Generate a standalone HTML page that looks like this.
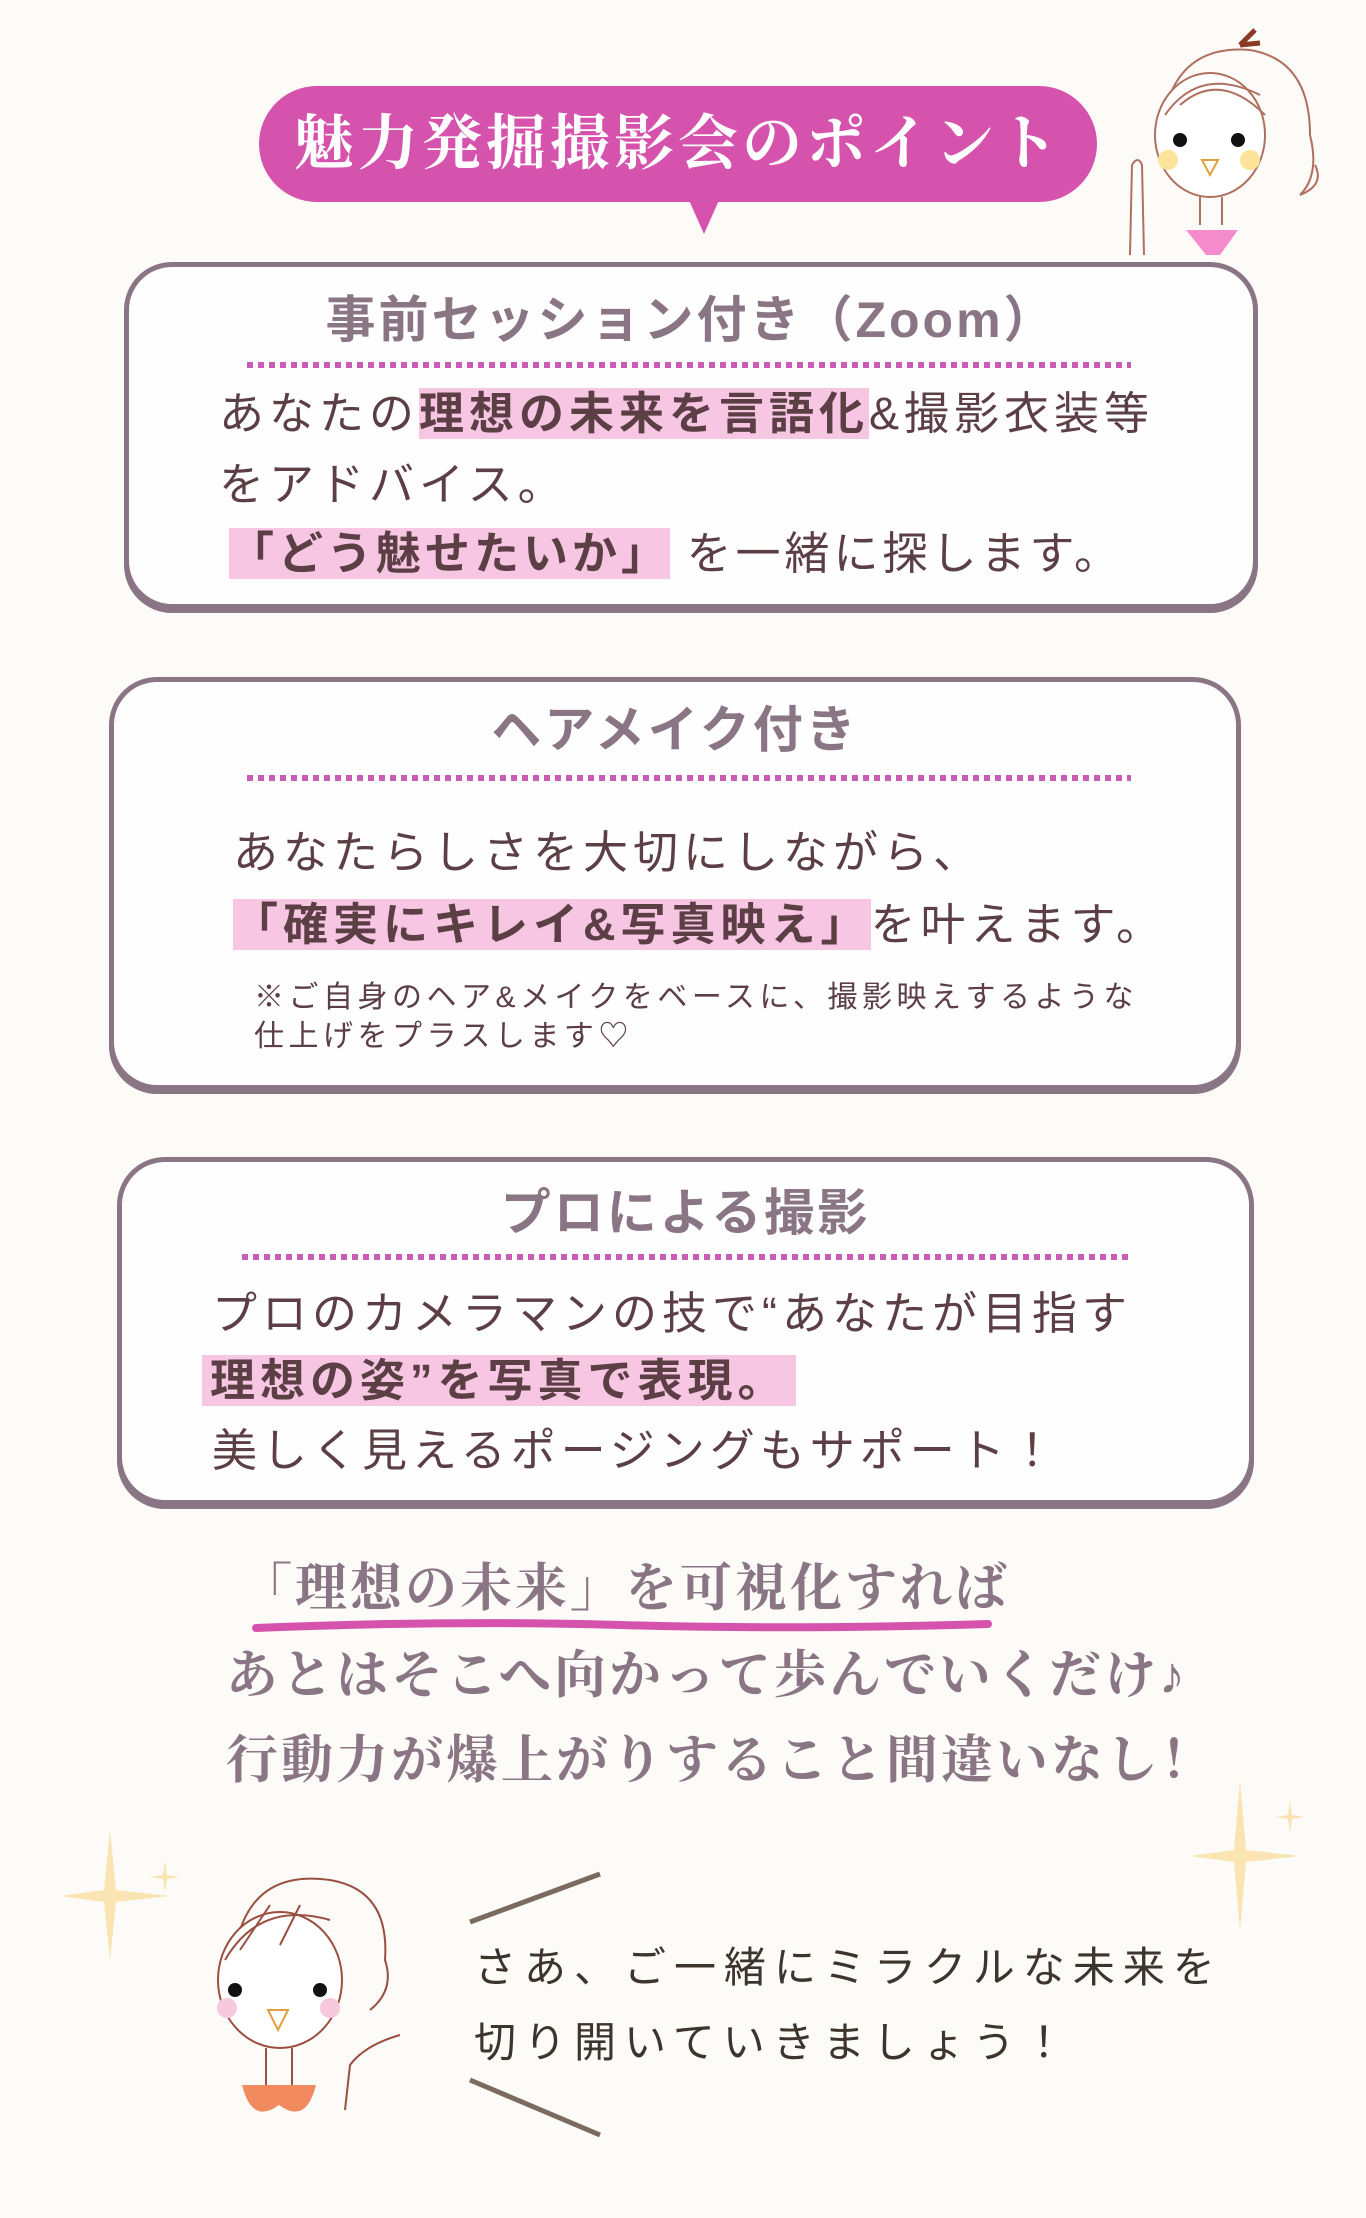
<!DOCTYPE html>
<html><head><meta charset="utf-8"><style>
body{margin:0;width:1366px;height:2218px;background:#fcfbf7;position:relative;overflow:hidden;font-family:"Liberation Sans","Noto Sans CJK JP",sans-serif;}
.a{position:absolute;white-space:nowrap;}
.box{position:absolute;border:5px solid #8a7584;border-radius:48px;background:#fffefe;box-shadow:0 4px 0 #8a7584;box-sizing:border-box;}
.ttl{position:absolute;left:0;right:0;text-align:center;color:#8a7584;font-weight:bold;font-size:50px;line-height:50px;letter-spacing:3px;}
.dot{position:absolute;height:6px;background:repeating-linear-gradient(90deg,#c95cb4 0 6px,transparent 6px 11px);}
.t{position:absolute;white-space:nowrap;color:#5b3f45;font-size:45px;line-height:50px;letter-spacing:5px;}
.hl{background:#f6c6e3;font-weight:bold;}
.b{position:absolute;white-space:nowrap;color:#8a7584;font-family:"Liberation Serif","Noto Serif CJK SC",serif;font-weight:bold;font-size:52px;line-height:56px;letter-spacing:3px;}
.s{position:absolute;white-space:nowrap;color:#3e342e;font-size:42px;line-height:48px;letter-spacing:8px;}
</style></head><body>

<div class="a" style="left:259px;top:86px;width:838px;height:116px;background:#d653ad;border-radius:58px;"></div>
<div class="a" style="left:688px;top:198px;width:0;height:0;border-left:16px solid transparent;border-right:16px solid transparent;border-top:36px solid #d653ad;"></div>
<div class="a" style="left:259px;top:112px;width:838px;text-align:center;color:#fff;font-family:'Liberation Serif','Noto Serif CJK SC',serif;font-weight:bold;font-size:60px;line-height:64px;letter-spacing:4px;">魅力発掘撮影会のポイント</div>

<svg class="a" style="left:1110px;top:25px" width="230" height="240" viewBox="0 0 230 240">
<path d="M130 20 L145 5 M130 20 L150 18" stroke="#8a3a20" stroke-width="5"/>
<path d="M60 70 Q80 20 140 25 Q200 35 200 110 Q210 150 190 170 Q215 160 205 140" fill="none" stroke="#b07060" stroke-width="2"/>
<ellipse cx="100" cy="110" rx="55" ry="62" fill="#fff" stroke="#b07060" stroke-width="2"/>
<path d="M55 90 Q90 40 150 70 M70 80 Q110 45 155 90" fill="none" stroke="#b07060" stroke-width="2"/>
<circle cx="70" cy="115" r="7" fill="#111"/><circle cx="128" cy="115" r="7" fill="#111"/>
<circle cx="58" cy="135" r="10" fill="#fbe49a"/><circle cx="140" cy="135" r="10" fill="#fbe49a"/>
<path d="M92 135 L108 135 L100 150 Z" fill="none" stroke="#e0a040" stroke-width="2"/>
<path d="M90 172 L90 200 M112 172 L112 200" stroke="#b07060" stroke-width="2"/>
<path d="M76 205 L128 205 L110 230 L96 230 Z" fill="#f48ccc"/>
<path d="M20 230 L22 140 Q28 130 32 140 L34 230" fill="#fff" stroke="#b07060" stroke-width="2"/>
</svg>

<div class="box" style="left:124px;top:262px;width:1134px;height:347px;"></div>
<div class="ttl" style="left:124px;width:1134px;top:295px;">事前セッション付き（Zoom）</div>
<div class="dot" style="left:247px;top:362px;width:884px;"></div>
<div class="t" style="left:219px;top:389px;">あなたの<span class="hl">理想の未来を言語化</span>&amp;撮影衣装等</div>
<div class="t" style="left:219px;top:460px;">をアドバイス。</div>
<div class="t" style="left:229px;top:529px;letter-spacing:4px;"><span class="hl">「どう魅せたいか」</span> を一緒に探します。</div>

<div class="box" style="left:109px;top:677px;width:1132px;height:413px;"></div>
<div class="ttl" style="left:109px;width:1132px;top:705px;">ヘアメイク付き</div>
<div class="dot" style="left:247px;top:775px;width:884px;"></div>
<div class="t" style="left:233px;top:828px;">あなたらしさを大切にしながら、</div>
<div class="t" style="left:233px;top:900px;"><span class="hl">「確実にキレイ&amp;写真映え」</span>を叶えます。</div>
<div class="a" style="left:254px;top:980px;color:#5b3f45;font-size:30px;line-height:36px;letter-spacing:4.5px;">※ご自身のヘア&amp;メイクをベースに、撮影映えするような</div>
<div class="a" style="left:254px;top:1019px;color:#5b3f45;font-size:30px;line-height:36px;letter-spacing:4.5px;">仕上げをプラスします♡</div>

<div class="box" style="left:117px;top:1157px;width:1137px;height:348px;"></div>
<div class="ttl" style="left:117px;width:1137px;top:1188px;">プロによる撮影</div>
<div class="dot" style="left:242px;top:1254px;width:888px;"></div>
<div class="t" style="left:212px;top:1289px;">プロのカメラマンの技で“あなたが目指す</div>
<div class="t" style="left:202px;top:1356px;"><span class="hl" style="padding:0 8px">理想の姿”を写真で表現。</span></div>
<div class="t" style="left:212px;top:1426px;">美しく見えるポージングもサポート！</div>

<div class="b" style="left:240px;top:1562px;">「理想の未来」を可視化すれば</div>
<svg class="a" style="left:250px;top:1616px" width="745" height="20"><path d="M6 12 Q200 4 370 9 T738 8" stroke="#d653ad" stroke-width="8" fill="none" stroke-linecap="round"/></svg>
<div class="b" style="left:226px;top:1649px;">あとはそこへ向かって歩んでいくだけ♪</div>
<div class="b" style="left:226px;top:1734px;">行動力が爆上がりすること間違いなし！</div>

<svg class="a" style="left:50px;top:1800px" width="150" height="180"><g fill="#f8dfa0" opacity="0.8"><path d="M60 30 L66 90 L120 96 L66 102 L60 160 L54 102 L10 96 L54 90Z"/><path d="M115 60 L117 75 L130 77 L117 79 L115 92 L113 79 L100 77 L113 75Z"/></g></svg>
<svg class="a" style="left:1170px;top:1760px" width="150" height="180"><g fill="#f8dfa0" opacity="0.8"><path d="M70 20 L76 90 L130 96 L76 102 L70 170 L64 102 L20 96 L64 90Z"/><path d="M120 40 L122 55 L135 57 L122 59 L120 72 L118 59 L105 57 L118 55Z"/></g></svg>

<svg class="a" style="left:180px;top:1860px" width="250" height="270" viewBox="0 0 250 270">
<path d="M60 70 Q80 10 150 20 Q210 30 205 100 Q215 130 190 150" fill="none" stroke="#9a5040" stroke-width="2"/>
<ellipse cx="100" cy="120" rx="62" ry="68" fill="#fff" stroke="#9a5040" stroke-width="2"/>
<path d="M45 100 Q80 40 150 60 M60 90 L90 45 M100 85 L120 45" fill="none" stroke="#9a5040" stroke-width="2"/>
<circle cx="55" cy="130" r="7" fill="#111"/><circle cx="140" cy="130" r="7" fill="#111"/>
<circle cx="47" cy="148" r="10" fill="#f8c8dc"/><circle cx="150" cy="148" r="10" fill="#f8c8dc"/>
<path d="M88 150 L108 150 L98 170 Z" fill="none" stroke="#e0a040" stroke-width="2"/>
<path d="M86 188 L86 225 M112 188 L112 225" stroke="#9a5040" stroke-width="2"/>
<path d="M62 225 Q72 265 99 245 Q126 265 136 225 Z" fill="#f28a60"/>
<path d="M165 250 L170 205 Q185 185 220 175" fill="none" stroke="#9a5040" stroke-width="2"/>
</svg>

<svg class="a" style="left:460px;top:1870px" width="150" height="270"><path d="M10 52 L140 4 M10 210 L140 265" stroke="#7a6a60" stroke-width="5"/></svg>
<div class="s" style="left:474px;top:1944px;">さあ、ご一緒にミラクルな未来を</div>
<div class="s" style="left:474px;top:2019px;">切り開いていきましょう！</div>

</body></html>
